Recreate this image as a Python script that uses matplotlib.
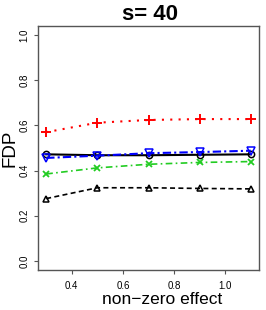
import numpy as np
import matplotlib
matplotlib.use("Agg")
import matplotlib.pyplot as plt

plt.rcParams["font.family"] = ["Liberation Sans", "DejaVu Sans"]

# -------- Data --------
effect = [0.3, 0.5, 0.7, 0.9, 1.1]
fdp_red = [0.570, 0.612, 0.624, 0.628, 0.628]
fdp_black = [0.472, 0.468, 0.468, 0.470, 0.472]
fdp_blue = [0.456, 0.466, 0.477, 0.482, 0.488]
fdp_green = [0.385, 0.412, 0.428, 0.436, 0.440]
fdp_tri = [0.276, 0.324, 0.324, 0.321, 0.319]

# -------- Plot --------
W, H = 266, 310
fig = plt.figure(figsize=(W / 100, H / 100), dpi=100)
ax = fig.add_axes([38 / W, 40 / H, 221 / W, 244 / H])

lw = 1.5
ax.plot(effect, fdp_red, color="red", linestyle=(0, (1, 3)), linewidth=lw,
        marker="+", markersize=7.5, markeredgewidth=1.4)
ax.plot(effect, fdp_black, color="black", linestyle="-", linewidth=lw,
        marker="o", markersize=4.5, markerfacecolor="none", markeredgewidth=1.1)
ax.plot(effect, fdp_blue, color="blue", linestyle=(0, (4, 1.5, 1, 1.5)), linewidth=lw,
        marker="v", markersize=5.5, markerfacecolor="none", markeredgewidth=1.1)
ax.plot(effect, fdp_green, color="#22cc22", linestyle=(0, (4, 2, 1, 2)), linewidth=1.2,
        marker="x", markersize=5, markeredgewidth=1.3)
ax.plot(effect, fdp_tri, color="black", linestyle=(0, (3, 2)), linewidth=1.2,
        marker="^", markersize=4.5, markerfacecolor="none", markeredgewidth=1.1)

ax.set_xlim(0.268, 1.132)
ax.set_ylim(-0.04, 1.04)
ax.set_xticks([0.4, 0.6, 0.8, 1.0])
ax.set_yticks([0.0, 0.2, 0.4, 0.6, 0.8, 1.0])
ax.tick_params(axis="both", labelsize=7, length=3, color="#555555")
ax.tick_params(axis="x", pad=5)
ax.tick_params(axis="y", pad=3)
for lab in ax.get_yticklabels():
    lab.set_rotation(90)
    lab.set_va("center")
for s in ax.spines.values():
    s.set_color("#555555")
    s.set_linewidth(1.0)

fig.text(150 / W, 1 - 15 / H, "s= 40", fontsize=16, fontweight="bold",
         ha="center", va="center")
fig.text(162 / W, 1 - 304 / H, "non\u2212zero effect", fontsize=12.5,
         ha="center", va="baseline")
fig.text(10 / W, 1 - 148 / H, "FDP", fontsize=13.5, rotation=90,
         ha="center", va="center")

fig.savefig("out.png", dpi=100)
